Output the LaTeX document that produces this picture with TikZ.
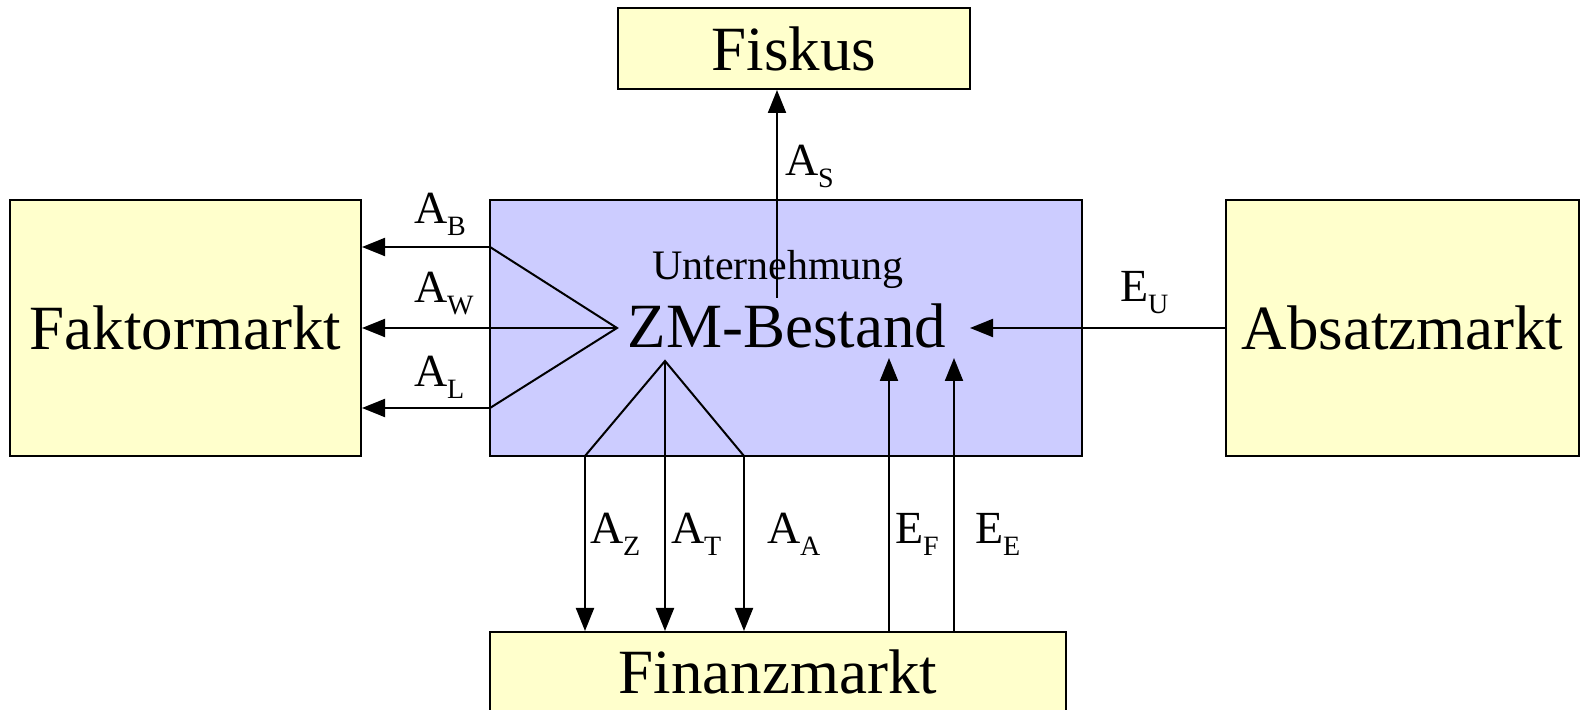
\documentclass[tikz,border=0pt]{standalone}
\usepackage{fontspec}
\setmainfont{Liberation Serif}
\usepackage{tikz}
\usetikzlibrary{arrows.meta,positioning}
\definecolor{MarktGelb}{HTML}{FFFFCC}
\definecolor{FirmaBlau}{HTML}{CCCCFF}
% indice des flux (A_B, E_U, ...)
\newcommand{\flux}[2]{#1\raisebox{-6pt}{\fontsize{14}{14}\selectfont #2}}

\begin{document}
\begin{tikzpicture}[x=0.5pt, y=-0.5pt, line width=1pt,
        markt/.style={draw=black, fill=MarktGelb, inner sep=0pt, font=\fontsize{31.5}{32}\selectfont},
        fleche/.style={-{Triangle[length=11.5pt,width=9pt]}},
        lbl/.style={anchor=base west, inner sep=0pt, font=\fontsize{23}{24}\selectfont}]
        \useasboundingbox (0,0) rectangle (1581,710);
        \clip (0,0) rectangle (1581,710);

        % Marchés et entreprise
        \node[markt, minimum width=176pt, minimum height=40.5pt] (fiskus) at (794,48.5) {Fiskus};
        \node[markt, minimum width=175.5pt, minimum height=128pt] (faktor) at (185.5,328) {Faktormarkt};
        \node[draw=black, fill=FirmaBlau, inner sep=0pt, minimum width=296pt, minimum height=128pt] (firma) at (786,328) {};
        \node[markt, minimum width=176.5pt, minimum height=128pt] (absatz) at (1402.5,328) {Absatzmarkt};
        \node[markt, minimum width=288pt, minimum height=40pt] (finanz) at (778,672) {Finanzmarkt};

        \node[anchor=base, inner sep=0pt, font=\fontsize{21}{22}\selectfont] (unt) at (778,280) {Unternehmung};
        \node[anchor=base, inner sep=0pt, font=\fontsize{31.5}{32}\selectfont] (zm) at (787,348) {ZM-Bestand};

        % Points des éventails
        \coordinate (gB) at (490,247);
        \coordinate (gL) at (490,408);
        \coordinate (gW) at (617,328);
        \coordinate (bT) at (665,361);
        \coordinate (bZ) at (585,456);
        \coordinate (bA) at (744,456);
        \coordinate (hS) at (777,298);
        \coordinate (eU) at (970,328);
        \coordinate (eF) at (889,358);
        \coordinate (eE) at (954,358);

        % Sorties vers le Faktormarkt
        \draw (gB) -- (gW) -- (gL);
        \draw[fleche] (gB) -- (faktor.east |- gB);
        \draw[fleche] (gW) -- (faktor.east |- gW);
        \draw[fleche] (gL) -- (faktor.east |- gL);

        % Sorties vers le Finanzmarkt
        \draw (bZ) -- (bT) -- (bA);
        \draw[fleche] (bZ) -- (bZ |- finanz.north);
        \draw[fleche] (bT) -- (bT |- finanz.north);
        \draw[fleche] (bA) -- (bA |- finanz.north);

        % Entrées et impôts
        \draw[fleche] (finanz.north -| eF) -- (eF);
        \draw[fleche] (finanz.north -| eE) -- (eE);
        \draw[fleche] (absatz.west) -- (eU);
        \draw[fleche] (hS) -- (hS |- fiskus.south);

        % Libellés des flux
        \node[lbl] (lAS) at (784,176) {\flux{A}{S}};
        \node[lbl] (lAB) at (413,224) {\flux{A}{B}};
        \node[lbl] (lAW) at (413,303) {\flux{A}{W}};
        \node[lbl] (lAL) at (413,387) {\flux{A}{L}};
        \node[lbl] (lEU) at (1119,302) {\flux{E}{U}};
        \node[lbl] (lAZ) at (589,544) {\flux{A}{Z}};
        \node[lbl] (lAT) at (670,544) {\flux{A}{T}};
        \node[lbl] (lAA) at (766,544) {\flux{A}{A}};
        \node[lbl] (lEF) at (894,544) {\flux{E}{F}};
        \node[lbl] (lEE) at (974,544) {\flux{E}{E}};
    \end{tikzpicture}
\end{document}
